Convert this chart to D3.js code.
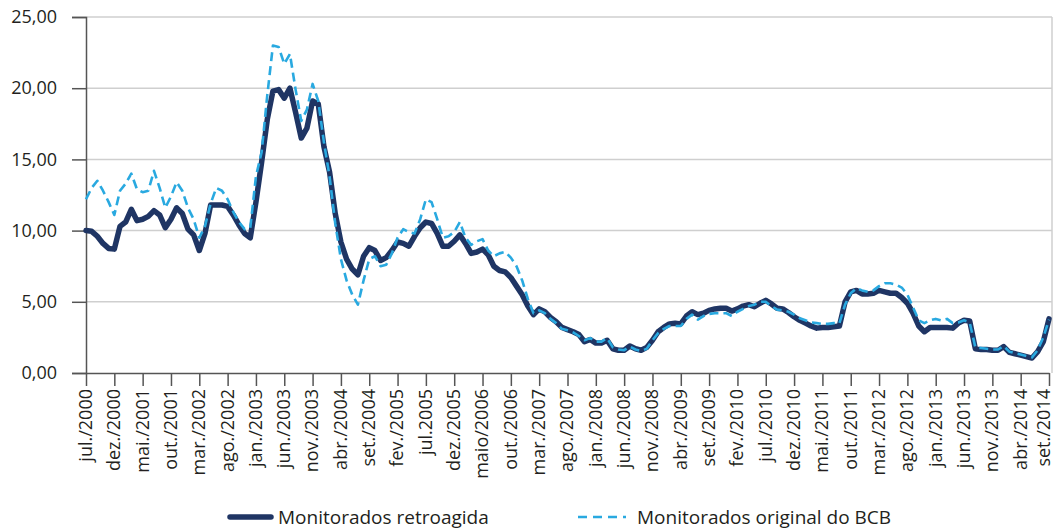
<!DOCTYPE html>
<html>
<head>
<meta charset="utf-8">
<script src="https://cdn.jsdelivr.net/npm/d3@7"></script>
<style>
  body { margin: 0; background: #fff; }
  text { font-family: "Open Sans", "Noto Sans", sans-serif; fill: #231f20; }
</style>
</head>
<body>
<script>
// tick labels (one every 5 months, jul/2000 .. set/2014)
const tickLabels = ["jul./2000","dez./2000","mai./2001","out./2001","mar./2002","ago./2002",
  "jan./2003","jun./2003","nov./2003","abr./2004","set./2004","fev./2005","jul.2005",
  "dez./2005","maio/2006","out./2006","mar./2007","ago./2007","jan./2008","jun./2008",
  "nov./2008","abr./2009","set./2009","fev./2010","jul./2010","dez./2010","mai./2011",
  "out./2011","mar./2012","ago./2012","jan./2013","jun./2013","nov./2013","abr./2014","set./2014"];

const yTicks = [0, 5, 10, 15, 20, 25];

// monthly values, jul/2000 .. set/2014 (171 months)
const retroagida = [
  10.0, 9.95, 9.6, 9.1, 8.75, 8.7, 10.3, 10.6, 11.5, 10.7,
  10.8, 11.0, 11.4, 11.1, 10.2, 10.8, 11.6, 11.2, 10.1, 9.7,
  8.6, 9.8, 11.8, 11.8, 11.8, 11.7, 11.1, 10.4, 9.8, 9.5,
  12.0, 14.8, 17.8, 19.8, 19.9, 19.3, 20.0, 18.3, 16.5, 17.2,
  19.1, 18.9, 15.9, 14.1, 11.2, 9.2, 8.0, 7.3, 6.9, 8.2,
  8.8, 8.6, 7.9, 8.1, 8.6, 9.2, 9.1, 8.9, 9.6, 10.2,
  10.6, 10.5, 9.8, 8.9, 8.9, 9.25, 9.7, 9.1, 8.4, 8.5,
  8.7, 8.3, 7.5, 7.2, 7.1, 6.7, 6.1, 5.5, 4.7, 4.1,
  4.5, 4.3, 3.9, 3.6, 3.2, 3.05, 2.9, 2.7, 2.2, 2.35,
  2.1, 2.1, 2.3, 1.7, 1.6, 1.6, 1.9, 1.7, 1.6, 1.8,
  2.3, 2.9, 3.2, 3.45, 3.5, 3.45, 4.0, 4.3, 4.1, 4.2,
  4.4, 4.5, 4.55, 4.55, 4.35, 4.5, 4.7, 4.8, 4.65, 4.9,
  5.1, 4.85, 4.55, 4.5, 4.25, 3.95, 3.7, 3.5, 3.3, 3.15,
  3.2, 3.2, 3.25, 3.3, 5.0, 5.7, 5.8, 5.55, 5.55, 5.6,
  5.8, 5.7, 5.6, 5.6, 5.3, 4.9, 4.2, 3.3, 2.9, 3.2,
  3.2, 3.2, 3.2, 3.15, 3.5, 3.7, 3.65, 1.7, 1.65, 1.65,
  1.6, 1.6, 1.85, 1.45, 1.35, 1.25, 1.15, 1.05, 1.5, 2.2,
  3.8
];

const originalBCB = [
  12.2, 13.0, 13.5, 12.8, 12.0, 11.1, 12.8, 13.3, 14.0, 12.9,
  12.7, 12.8, 14.2, 13.0, 11.6, 12.4, 13.4, 12.8, 11.6, 10.8,
  9.5, 10.3, 11.9, 13.0, 12.8, 12.2, 11.3, 10.6, 10.1, 10.2,
  13.8, 15.5, 19.5, 23.0, 22.9, 21.7, 22.4, 19.9, 17.7, 18.5,
  20.3, 19.1, 16.2, 13.8, 10.5, 8.0, 6.5, 5.5, 4.8, 6.5,
  8.0, 8.2, 7.5, 7.6, 8.4, 9.5, 10.1, 9.9, 9.8, 10.8,
  12.2, 12.0, 10.8, 9.5, 9.6, 9.9, 10.6, 9.5, 9.0, 9.25,
  9.4, 8.6, 8.2, 8.4, 8.5, 8.1, 7.5, 6.5, 5.2, 4.2,
  4.4, 4.2, 3.8, 3.5, 3.1, 3.0, 2.85, 2.6, 2.3, 2.45,
  2.2, 2.2, 2.45, 1.8, 1.65, 1.6, 1.85, 1.65, 1.55, 1.7,
  2.3, 2.8, 3.1, 3.3, 3.3, 3.3, 3.8, 4.1, 3.75, 4.0,
  4.15, 4.2, 4.2, 4.2, 4.0, 4.3, 4.5, 4.7, 4.8, 5.0,
  5.0, 4.7, 4.45, 4.4, 4.3, 4.1, 3.85, 3.7, 3.55, 3.5,
  3.45, 3.45, 3.5, 3.5, 4.8, 5.6, 5.95, 5.8, 5.7, 5.8,
  6.1, 6.3, 6.3, 6.2, 6.0, 5.5, 4.6, 3.7, 3.5, 3.7,
  3.8, 3.7, 3.8, 3.5, 3.55, 3.7, 3.55, 1.8, 1.75, 1.7,
  1.65, 1.65, 1.9, 1.5, 1.4, 1.3, 1.2, 1.1, 1.6, 2.5,
  3.75
];

const W = 1057, H = 531;
const plotLeft = 86, plotRight = 1049, plotTop = 17, plotBottom = 373;

const svg = d3.select("body").append("svg")
    .attr("width", W)
    .attr("height", H)
    .style("background", "#fff");

const x = d3.scaleLinear().domain([0, retroagida.length - 1]).range([plotLeft, plotRight]);
const y = d3.scaleLinear().domain([0, 25]).range([plotBottom, plotTop]);

// gridlines
svg.append("g")
  .selectAll("line")
  .data(yTicks.filter(d => d > 0))
  .enter().append("line")
    .attr("x1", plotLeft).attr("x2", plotRight + 3)
    .attr("y1", d => y(d)).attr("y2", d => y(d))
    .attr("stroke", "#cfcfcf")
    .attr("stroke-width", 1.5);

// right border
svg.append("line")
    .attr("x1", plotRight + 3).attr("x2", plotRight + 3)
    .attr("y1", plotTop).attr("y2", plotBottom)
    .attr("stroke", "#cfcfcf")
    .attr("stroke-width", 1.5);

// y axis
const yAxis = svg.append("g")
    .attr("transform", "translate(" + plotLeft + ",0)")
    .call(d3.axisLeft(y)
      .tickValues(yTicks)
      .tickSize(14)
      .tickPadding(15)
      .tickFormat(d => d3.format(".2f")(d).replace(".", ",")));
yAxis.select(".domain").attr("stroke", "#555").attr("stroke-width", 1.5);
yAxis.selectAll(".tick line").attr("stroke", "#555").attr("stroke-width", 1.5);
yAxis.selectAll("text")
    .style("font-size", "18px")
    .attr("fill", "#231f20");

// x axis
const xAxis = svg.append("g")
    .attr("transform", "translate(0," + plotBottom + ")")
    .call(d3.axisBottom(x)
      .tickValues(tickLabels.map((d, i) => i * 5))
      .tickSize(13)
      .tickSizeOuter(0)
      .tickFormat(""));
xAxis.select(".domain").attr("stroke", "#555").attr("stroke-width", 1.5);
xAxis.selectAll(".tick line").attr("stroke", "#555").attr("stroke-width", 1.5);
// keep the last label inside the page edge
xAxis.selectAll(".tick")
  .append("text")
    .attr("transform", (d, i) => "translate(" + (i === tickLabels.length - 1 ? -5 : 0) + ",16) rotate(-90)")
    .attr("text-anchor", "end")
    .attr("dy", "0.3em")
    .style("font-size", "18px")
    .attr("fill", "#231f20")
    .text((d, i) => tickLabels[i]);

// lines
const line = d3.line()
    .x((d, i) => x(i))
    .y(d => y(d));

svg.append("path")
    .datum(retroagida)
    .attr("fill", "none")
    .attr("stroke", "#1f3564")
    .attr("stroke-width", 5.5)
    .attr("stroke-linejoin", "round")
    .attr("stroke-linecap", "round")
    .attr("d", line);

svg.append("path")
    .datum(originalBCB)
    .attr("fill", "none")
    .attr("stroke", "#29a9e0")
    .attr("stroke-width", 2.6)
    .attr("stroke-dasharray", "9,5")
    .attr("stroke-linejoin", "round")
    .attr("d", line);

// legend
const legend = svg.append("g").attr("transform", "translate(0,517)");
legend.append("line")
    .attr("x1", 230).attr("x2", 271).attr("y1", 0).attr("y2", 0)
    .attr("stroke", "#1f3564").attr("stroke-width", 5.5).attr("stroke-linecap", "round");
legend.append("text")
    .attr("x", 278).attr("dy", "0.36em")
    .style("font-size", "19px")
    .text("Monitorados retroagida");
legend.append("line")
    .attr("x1", 578).attr("x2", 626).attr("y1", 0).attr("y2", 0)
    .attr("stroke", "#29a9e0").attr("stroke-width", 2.6).attr("stroke-dasharray", "9,6");
legend.append("text")
    .attr("x", 637).attr("dy", "0.36em")
    .style("font-size", "19px")
    .text("Monitorados original do BCB");
</script>
</body>
</html>
